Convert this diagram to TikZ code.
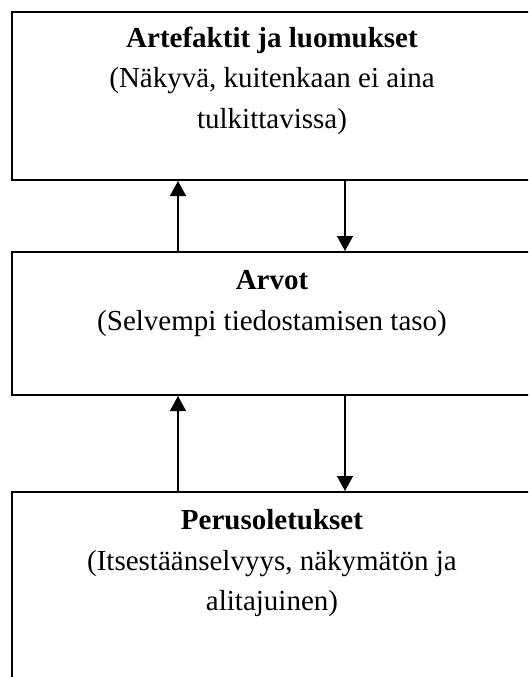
\documentclass[tikz,border=0pt]{standalone}
\usepackage{fontspec}
\setmainfont{Liberation Serif}
\usetikzlibrary{arrows.meta}
\begin{document}
\begin{tikzpicture}[x=1pt,y=1pt,
  box/.style={draw=black,line width=2pt,inner sep=0pt,anchor=north west,minimum width=522pt},
  ttl/.style={anchor=base,inner sep=0pt,font=\fontsize{29}{34}\selectfont\bfseries},
  txt/.style={anchor=base,inner sep=0pt,font=\fontsize{29}{34}\selectfont},
  arr/.style={line width=1.3pt,-{Triangle[width=16pt,length=15pt]}}]
\useasboundingbox (0,0) rectangle (528,-677);
\clip (0,0) rectangle (528,-677);
\node[box,minimum height=168pt] (b1) at (11,-11) {};
\node[box,minimum height=143pt] (b2) at (11,-251) {};
\node[box,minimum height=250pt] (b3) at (11,-491) {};
\coordinate (ux) at (178,0);
\coordinate (dx) at (345,0);
\node[ttl] (t1) at (272,-48) {Artefaktit ja luomukset};
\node[txt] (t1a) at (272,-88) {(Näkyvä, kuitenkaan ei aina};
\node[txt] (t1b) at (272,-128) {tulkittavissa)};
\node[ttl] (t2) at (272,-289) {Arvot};
\node[txt] (t2a) at (272,-330) {(Selvempi tiedostamisen taso)};
\node[ttl] (t3) at (272,-529) {Perusoletukset};
\node[txt] (t3a) at (272,-570) {(Itsestäänselvyys, näkymätön ja};
\node[txt] (t3b) at (272,-610) {alitajuinen)};
\draw[arr] (b2.north -| ux) -- (b1.south -| ux);
\draw[arr] (b1.south -| dx) -- (b2.north -| dx);
\draw[arr] (b3.north -| ux) -- (b2.south -| ux);
\draw[arr] (b2.south -| dx) -- (b3.north -| dx);
\end{tikzpicture}
\end{document}
